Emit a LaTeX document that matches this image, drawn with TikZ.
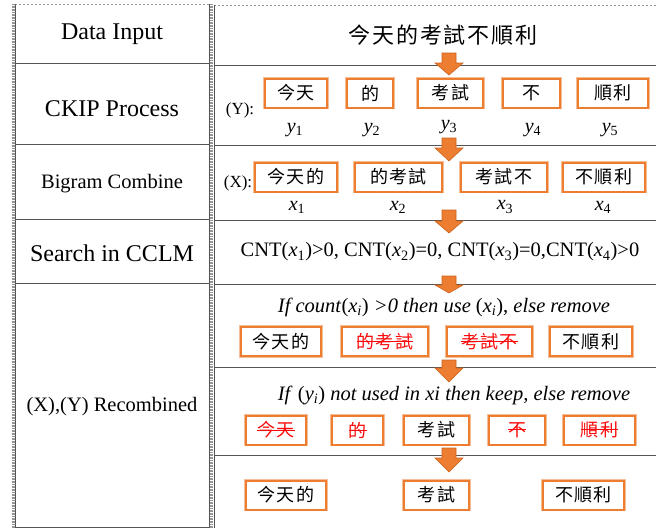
\documentclass[tikz,border=0pt]{standalone}
\usepackage{fontspec}
\setmainfont{Liberation Serif}
\newfontfamily\cjk[LetterSpace=8]{Noto Sans CJK TC}
\definecolor{boxorange}{RGB}{237,125,49}
\definecolor{boxhalo}{RGB}{246,190,150}
\definecolor{arrowedge}{RGB}{205,98,28}
\definecolor{rulegray}{RGB}{85,85,85}
\definecolor{framegray}{RGB}{150,150,150}
\definecolor{cutred}{RGB}{250,10,10}
% struck-out text: a rule through the middle of the glyphs
\newcommand\cutout[1]{\setbox0=\hbox{#1}\rlap{\rule[0.36em]{\wd0}{0.9pt}}\box0}
% solid block arrow pointing down: centre x, shaft top, head base, tip
\newcommand\flowarrow[4]{\filldraw[arrowshape] (#1-7,#2) -- (#1+7,#2) -- (#1+7,#3) -- (#1+14,#3) -- (#1,#4) -- (#1-14,#3) -- (#1-7,#3) -- cycle;}
\tikzset{
  wbox/.style={draw=boxorange, line width=2pt, fill=white, minimum width=#1,
    minimum height=29pt, inner sep=0pt, font=\cjk\fontsize{18}{20}\selectfont,
    preaction={draw=boxhalo, line width=3.2pt}},
  stage/.style={font=\fontsize{24}{26}\selectfont, inner sep=0pt},
  smallstage/.style={font=\fontsize{20.5}{22}\selectfont, inner sep=0pt},
  plain/.style={font=\fontsize{20.5}{22}\selectfont, inner sep=0pt},
  idx/.style={font=\fontsize{20}{22}\selectfont, inner sep=0pt},
  rowrule/.style={draw=rulegray, line width=0.9pt},
  edge/.style={draw=framegray, line width=2.6pt, dash pattern=on 0.8pt off 0.8pt},
  arrowshape/.style={fill=boxorange, draw=arrowedge, line width=0.6pt},
}
\begin{document}
\begin{tikzpicture}[x=1pt, y=-1pt]
\useasboundingbox (0,0) rectangle (656,528);

% ---- table frame ----
\draw[edge] (13.5,4) -- (13.5,528);
\draw[edge] (211.5,4) -- (211.5,528);
\draw[framegray, line width=1pt, dash pattern=on 1.5pt off 2.5pt] (15,4) -- (209,4);
\draw[framegray, line width=1pt, dash pattern=on 1.5pt off 2.5pt] (214,5) -- (656,5);
\draw[rulegray, line width=0.9pt] (15.5,4) -- (15.5,528);
\draw[rulegray, line width=0.9pt] (209,4) -- (209,528);
\draw[rulegray, line width=0.9pt] (214,5) -- (214,528);

% left column row rules
\foreach \yy in {63,144,219,283,527} \draw[rowrule] (15.5,\yy) -- (209,\yy);
% right column row rules
\foreach \yy in {65,145,220,284,367,455} \draw[rowrule] (214,\yy) -- (656,\yy);

% ---- stage names ----
\node[stage] (s1) at (112,34) {Data Input};
\node[stage] (s2) at (112,109) {CKIP Process};
\node[smallstage] (s3) at (112,184) {Bigram Combine};
\node[stage] (s4) at (112,253) {Search in CCLM};
\node[smallstage] (s5) at (112,407) {(X),(Y) Recombined};

% ---- data input ----
\node[inner sep=0pt, font=\cjk\fontsize{22}{24}\selectfont] (sent) at (443,35) {今天的考試不順利};

% ---- arrows between rows ----
\flowarrow{449}{53}{63}{75}
\flowarrow{449}{138}{148}{161}
\flowarrow{449}{210}{221}{233}
\flowarrow{449}{276}{285}{293}
\flowarrow{449}{360}{368}{382}
\flowarrow{449}{448}{458}{472}

% ---- CKIP words ----
\node[font=\fontsize{17}{18}\selectfont, inner sep=0pt] (ylab) at (240,110) {(Y):};
\node[wbox=62pt]  (y1) at (296,93)   {今天};
\node[wbox=46pt]  (y2) at (370,93)   {的};
\node[wbox=65pt]  (y3) at (450.5,93) {考試};
\node[wbox=57pt]  (y4) at (531.5,93) {不};
\node[wbox=70pt]  (y5) at (613,93)   {順利};
\node[idx] (ly1) at (295,130) {\textit{y}\textsubscript{1}};
\node[idx] (ly2) at (372,130) {\textit{y}\textsubscript{2}};
\node[idx] (ly3) at (449,127) {\textit{y}\textsubscript{3}};
\node[idx] (ly4) at (533,130) {\textit{y}\textsubscript{4}};
\node[idx] (ly5) at (610,130) {\textit{y}\textsubscript{5}};

% ---- bigrams ----
\node[font=\fontsize{17}{18}\selectfont, inner sep=0pt] (xlab) at (238,183) {(X):};
\node[wbox=82pt] (x1) at (296,177)   {今天的};
\node[wbox=87pt] (x2) at (398.5,177) {的考試};
\node[wbox=86pt] (x3) at (504,177)   {考試不};
\node[wbox=82pt] (x4) at (604,177)   {不順利};
\node[idx] (lx1) at (297,207) {\textit{x}\textsubscript{1}};
\node[idx] (lx2) at (398,207) {\textit{x}\textsubscript{2}};
\node[idx] (lx3) at (505,207) {\textit{x}\textsubscript{3}};
\node[idx] (lx4) at (603,207) {\textit{x}\textsubscript{4}};

% ---- language-model counts ----
\node[plain] (cnt) at (440,252) {CNT(\textit{x}\textsubscript{1})>0, CNT(\textit{x}\textsubscript{2})=0, CNT(\textit{x}\textsubscript{3})=0,CNT(\textit{x}\textsubscript{4})>0};

% ---- keep bigrams with counts ----
\node[plain] (rule1) at (444,307) {\textit{If count}(\textit{x\textsubscript{i}}) \textit{>0 then use} (\textit{x\textsubscript{i}}), \textit{else remove}};
\node[wbox=80pt] (k1) at (281,341.5)   {今天的};
\node[wbox=86pt] (k2) at (385,341.5)   {\color{cutred}\cutout{的考試}};
\node[wbox=85pt] (k3) at (489.5,341.5) {\color{cutred}\cutout{考試不}};
\node[wbox=82pt] (k4) at (591,341.5)   {不順利};

% ---- keep unused words ----
\node[plain] (rule2) at (454,395) {\textit{If} (\textit{y\textsubscript{i}}) \textit{not used in xi then keep, else remove}};
\node[wbox=60pt] (u1) at (276,430)   {\color{cutred}\cutout{今天}};
\node[wbox=51pt] (u2) at (357.5,430) {\color{cutred}\cutout{的}};
\node[wbox=65pt] (u3) at (436.5,430) {考試};
\node[wbox=56pt] (u4) at (517,430)   {\color{cutred}\cutout{不}};
\node[wbox=71pt] (u5) at (599.5,430) {\color{cutred}\cutout{順利}};

% ---- result ----
\node[wbox=80pt] (r1) at (286,495)   {今天的};
\node[wbox=65pt] (r2) at (436.5,495) {考試};
\node[wbox=81pt] (r3) at (583.5,495) {不順利};
\end{tikzpicture}
\end{document}
